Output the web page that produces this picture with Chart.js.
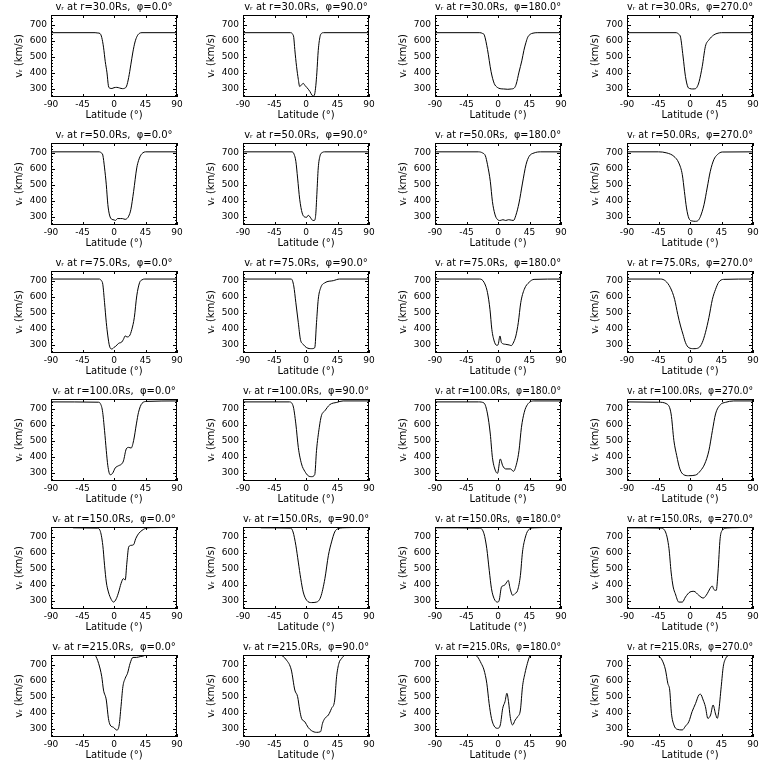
<!DOCTYPE html>
<html>
<head>
<meta charset="utf-8">
<title>vr vs latitude</title>
<script src="https://cdn.jsdelivr.net/npm/chart.js@4.4.1/dist/chart.umd.min.js"></script>
<style>
  body { margin: 0; background: #fff; }
  #grid { position: relative; width: 768px; height: 768px; }
  #grid canvas { position: absolute; }
</style>
</head>
<body>
<div id="grid"></div>
<script>
// --- Datos ---
const radii = [30, 50, 75, 100, 150, 215];
const phis = [0, 90, 180, 270];
const xTicks = [-90, -45, 0, 45, 90];
const yTicks = [300, 400, 500, 600, 700];
const yMin = 250;
const yMax = 760;

// [latitud, vr] por panel
const r30phi0 = [[-90,650],[-27,650],[-23,648],[-20,645],[-17.5,620],[-15,560],[-12.5,470],[-10,400],[-8,320],[-6,305],[-3,303],[0,308],[4,310],[8,306],[12,302],[15,304],[18,318],[21,372],[24,450],[27,530],[30,592],[33,628],[36,645],[40,650],[90,650]];
const r30phi90 = [[-90,650],[-22,650],[-19,640],[-17.5,620],[-16,545],[-13.5,440],[-11,360],[-9,315],[-6.5,325],[-4,335],[-1.5,322],[1,310],[5.5,285],[8.5,262],[10.5,256],[12.5,270],[14,320],[15.5,400],[17.5,540],[20,625],[22,645],[25,650],[90,650]];
const r30phi180 = [[-90,650],[-26,650],[-22,645],[-19.5,635],[-15,545],[-10,410],[-5.5,335],[-1,310],[3,302],[8,300],[14,298],[19,300],[23,305],[26,330],[30,405],[34,475],[37,540],[40,590],[42.5,622],[46,640],[50,647],[56,650],[90,650]];
const r30phi270 = [[-90,650],[-20,650],[-16,640],[-13.5,622],[-10,505],[-6.5,378],[-3,312],[0,302],[4,300],[8,302],[11,320],[13,345],[17.5,440],[22,565],[27,605],[34,636],[40,647],[45,650],[90,650]];

const r50phi0 = [[-90,705],[-21,705],[-18,698],[-16,685],[-13.5,605],[-11,500],[-8.8,378],[-6.4,312],[-3,285],[0,282],[2,278],[5,290],[9,290],[12,290],[16,285],[19,292],[21,305],[24,345],[28,458],[32.5,605],[35,650],[37.5,678],[41,698],[45,705],[90,705]];
const r50phi90 = [[-90,705],[-20,705],[-17,690],[-14.5,646],[-12,542],[-9,410],[-5.5,325],[-2,300],[1,298],[3,310],[5,305],[7,292],[10,278],[12.5,280],[14,320],[15.5,440],[17.5,605],[20,680],[23,700],[27,705],[90,705]];
const r50phi180 = [[-90,705],[-28,705],[-22,698],[-18,680],[-15,625],[-11,522],[-8,397],[-4.5,318],[-1,285],[3,278],[7,283],[11,278],[15,283],[19,280],[22,278],[25.5,310],[30,387],[35,511],[40,625],[44.5,677],[51.5,698],[61,705],[90,705]];
const r50phi270 = [[-90,705],[-45,705],[-33,698],[-23,677],[-16,636],[-11,563],[-8,459],[-5,356],[-1.7,293],[3,275],[8,273],[12,280],[15,304],[20,376],[24.5,480],[29,584],[34,656],[39,687],[46,704],[90,705]];

const r75phi0 = [[-90,710],[-21,710],[-18,700],[-16,677],[-13.5,563],[-11,439],[-8.8,356],[-6.4,293],[-3,275],[0,285],[2,290],[6.5,310],[11,318],[13.5,335],[16,356],[18.5,350],[22,356],[25.5,397],[29,470],[32.5,605],[36.5,687],[40,705],[44,710],[90,710]];
const r75phi90 = [[-90,710],[-21,710],[-17.5,667],[-14.5,563],[-11,439],[-8,335],[-4,304],[1,283],[8,277],[12.5,283],[15,439],[17.5,584],[21,656],[27,687],[39,700],[48,710],[90,710]];
const r75phi180 = [[-90,710],[-26,710],[-20,690],[-15,625],[-11.5,522],[-8.8,397],[-5.5,325],[-2,298],[0,300],[2.8,356],[5,314],[11,304],[16,300],[19,296],[21.5,310],[25.5,356],[29,439],[32.5,563],[37.5,646],[44.5,690],[51.5,708],[90,710]];
const r75phi270 = [[-90,710],[-42,710],[-35,698],[-28,656],[-22,584],[-17.5,490],[-13.5,418],[-10,366],[-6.4,314],[-1.7,283],[5.5,277],[12.6,283],[17.4,314],[22,376],[27,470],[32,584],[36.5,646],[41,690],[48,708],[90,710]];

const r100phi0 = [[-90,742],[-22,740],[-20,735],[-16.5,687],[-13.5,563],[-11,439],[-8.8,345],[-5.5,289],[-2,298],[1.7,331],[6.5,345],[11,356],[13.5,375],[17.5,449],[21,459],[24.5,455],[28,501],[32,605],[35,677],[40,733],[47,745],[90,748]];
const r100phi90 = [[-90,742],[-24,742],[-18.5,718],[-14.5,605],[-11,459],[-6.4,356],[-1.7,310],[3,283],[8,277],[12.5,290],[15,439],[19,584],[22,656],[27,687],[34,725],[44,739],[53,748],[90,748]];
const r100phi180 = [[-90,742],[-28,742],[-20,735],[-15,667],[-11,542],[-8,397],[-4,318],[-0.7,298],[3.3,387],[6.7,345],[11,325],[18,325],[22,310],[27,366],[30,439],[33.5,584],[37.5,677],[42,725],[51.5,748],[90,748]];
const r100phi270 = [[-90,742],[-45,740],[-33,729],[-27,667],[-23,501],[-19,408],[-14.5,325],[-9,289],[-2,283],[8,287],[15,314],[21,356],[27,439],[32,563],[36.5,667],[43.5,725],[50.5,739],[62.5,748],[90,748]];

const r150phi0 = [[-90,762],[-62,762],[-58,755],[-24,753],[-20,739],[-16,646],[-13.5,522],[-11,418],[-8,356],[-4,310],[-0.7,293],[3.3,314],[6.7,356],[10,408],[13.5,439],[16,430],[18.5,542],[21,636],[24.5,646],[28,650],[31,687],[35,718],[40,739],[47,754],[56,756],[90,758]];
const r150phi90 = [[-90,762],[-68,762],[-64,755],[-22,753],[-18.5,729],[-14.5,646],[-11,542],[-7.5,439],[-4,356],[1,304],[8,290],[15,293],[21,325],[27,439],[32,584],[36.5,667],[41,729],[46,750],[58,756],[90,758]];
const r150phi180 = [[-90,755],[-26,753],[-20,718],[-16,625],[-12.5,490],[-9.3,376],[-5.5,314],[-0.7,293],[1.7,304],[5,387],[9,397],[12.7,418],[14.6,428],[17.4,376],[21,335],[24,345],[28,366],[32,459],[35,605],[38.5,687],[43,739],[51.5,755],[90,758]];
const r150phi270 = [[-90,755],[-42,753],[-35,729],[-30,625],[-27,480],[-24,387],[-21,345],[-16,293],[-11,293],[-6.4,325],[0,356],[5.5,360],[12.6,335],[18.8,318],[24.6,345],[28.4,376],[31.8,393],[34,372],[37.5,366],[40,480],[43,687],[46,739],[53,754],[67,756],[90,760]];

const r215phi0 = [[-90,775],[-30,770],[-27,760],[-22,708],[-17.5,625],[-15,542],[-11,480],[-8,366],[-5.5,325],[-0.7,310],[4,293],[7.4,325],[10,439],[12.7,563],[16,615],[19.3,646],[23,708],[27,745],[32,745],[37.5,750],[42,754],[47,762],[55,775],[90,775]];
const r215phi90 = [[-90,775],[-62,770],[-56.5,760],[-37.5,760],[-28,729],[-21,667],[-16,542],[-12,501],[-9,418],[-6.4,366],[-1.7,345],[3,310],[8,289],[15,279],[20.8,283],[23.6,335],[27,366],[32,387],[36.5,428],[41,480],[43.7,625],[47,708],[51,739],[55.6,760],[62,765],[90,775]];
const r215phi180 = [[-90,775],[-36,770],[-33,760],[-29.5,750],[-24,708],[-20,667],[-16,584],[-12.7,459],[-9.3,366],[-5.5,318],[-0.7,304],[3.3,325],[6.7,428],[10,470],[12.7,522],[15,470],[17.4,376],[20.8,325],[24.6,356],[28,376],[32,418],[35,563],[38.5,646],[42,708],[45.6,754],[49,762],[56,775],[90,775]];
const r215phi270 = [[-90,775],[-55,770],[-48,760],[-44.6,754],[-40,729],[-35,667],[-31.7,584],[-29,542],[-26.5,397],[-23,325],[-18.4,298],[-11,294],[-6.4,318],[-1.7,345],[3,408],[8,459],[12.6,511],[15,516],[18.8,480],[22,439],[25.5,366],[29.4,387],[33,449],[36.5,393],[39,366],[41,408],[44.6,563],[47.5,687],[51,739],[55.6,760],[60,770],[90,775]];

const panels = [
  [r30phi0, r30phi90, r30phi180, r30phi270],
  [r50phi0, r50phi90, r50phi180, r50phi270],
  [r75phi0, r75phi90, r75phi180, r75phi270],
  [r100phi0, r100phi90, r100phi180, r100phi270],
  [r150phi0, r150phi90, r150phi180, r150phi270],
  [r215phi0, r215phi90, r215phi180, r215phi270],
];

// --- Estilo IDL: marco cerrado con ticks hacia dentro ---
const idlFrame = {
  id: 'idlFrame',
  afterDatasetsDraw(chart) {
    const { ctx, chartArea: a, scales: { x, y } } = chart;
    ctx.save();
    ctx.strokeStyle = '#000';
    ctx.lineWidth = 1;
    ctx.strokeRect(a.left + 0.5, a.top + 0.5, a.right - a.left - 1, a.bottom - a.top - 1);
    ctx.beginPath();
    xTicks.forEach(v => {
      const px = Math.round(x.getPixelForValue(v)) + 0.5;
      ctx.moveTo(px, a.bottom); ctx.lineTo(px, a.bottom - 3);
      ctx.moveTo(px, a.top); ctx.lineTo(px, a.top + 3);
    });
    for (let v = 260; v < yMax; v += 20) {
      const len = v % 100 === 0 ? 4 : 2;
      const py = Math.round(y.getPixelForValue(v)) + 0.5;
      ctx.moveTo(a.left, py); ctx.lineTo(a.left + len, py);
      ctx.moveTo(a.right, py); ctx.lineTo(a.right - len, py);
    }
    ctx.stroke();
    ctx.restore();
  }
};

const tickFont = { family: 'DejaVu Sans', size: 9 };
const labelFont = { family: 'DejaVu Sans', size: 10 };

function makePanel(row, col) {
  const canvas = document.createElement('canvas');
  canvas.width = 192;
  canvas.height = 128;
  canvas.style.left = (col * 192) + 'px';
  canvas.style.top = (row * 128) + 'px';
  document.getElementById('grid').appendChild(canvas);

  const r = radii[row];
  const phi = phis[col];
  const title = `v\u1d63 at r=${r.toFixed(1)}Rs,  \u03c6=${phi.toFixed(1)}\u00b0`;

  new Chart(canvas, {
    type: 'line',
    data: {
      datasets: [{
        data: panels[row][col].map(p => ({ x: p[0], y: p[1] })),
        borderColor: '#000',
        borderWidth: 1,
        pointRadius: 0,
        cubicInterpolationMode: 'monotone',
        fill: false
      }]
    },
    options: {
      responsive: false,
      animation: false,
      events: [],
      layout: { padding: { left: 0, right: 15, top: 0, bottom: 0 } },
      scales: {
        x: {
          type: 'linear',
          min: -90,
          max: 90,
          afterBuildTicks: s => { s.ticks = xTicks.map(value => ({ value })); },
          afterFit: s => { s.height = 31; },
          grid: { display: false, drawTicks: false },
          border: { display: false },
          ticks: { color: '#000', font: tickFont, padding: 2, maxRotation: 0, autoSkip: false },
          title: { display: true, text: 'Latitude (\u00b0)', color: '#000', font: labelFont, padding: { top: 0, bottom: 7 } }
        },
        y: {
          type: 'linear',
          min: yMin,
          max: yMax,
          afterBuildTicks: s => { s.ticks = yTicks.map(value => ({ value })); },
          afterFit: s => { s.width = 51; },
          grid: { display: false, drawTicks: false },
          border: { display: false },
          ticks: { color: '#000', font: tickFont, padding: 4, autoSkip: false },
          title: { display: true, text: 'v\u1d63 (km/s)', color: '#000', font: labelFont, padding: { top: 13, bottom: 0 } }
        }
      },
      plugins: {
        legend: { display: false },
        tooltip: { enabled: false },
        title: {
          display: true,
          text: title,
          fullSize: false,
          color: '#000',
          font: { family: 'DejaVu Sans', size: 10, weight: 'normal' },
          padding: { top: 1, bottom: 2 }
        }
      }
    },
    plugins: [idlFrame]
  });
}

// --- Inicialización ---
document.addEventListener('DOMContentLoaded', () => {
  for (let row = 0; row < radii.length; row++) {
    for (let col = 0; col < phis.length; col++) {
      makePanel(row, col);
    }
  }
});
</script>
</body>
</html>
